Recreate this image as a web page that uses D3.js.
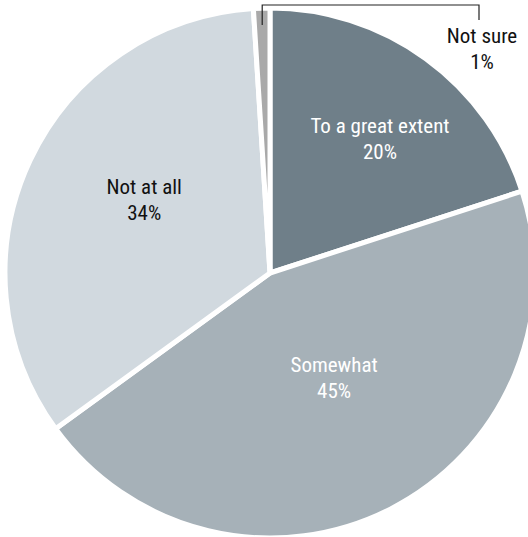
<!DOCTYPE html>
<html>
<head>
<meta charset="utf-8">
<script src="https://cdn.jsdelivr.net/npm/d3@7"></script>
<style>
  html, body { margin: 0; padding: 0; background: #ffffff; }
  svg { display: block; }
  text { font-family: "Roboto Condensed", "Liberation Sans Narrow", "Arial Narrow", sans-serif; font-size: 21px; }
</style>
</head>
<body>
<svg id="chart" width="528" height="537"></svg>
<script>
// ---- data ----
const categories = ["To a great extent", "Somewhat", "Not at all", "Not sure"];
const values = [20, 45, 34, 1];
const valueLabels = ["20%", "45%", "34%", "1%"];
const colors = ["#6f7f89", "#a6b1b8", "#d1d9df", "#a9a9a9"];
const labelColors = ["#ffffff", "#ffffff", "#111111", "#111111"];

// ---- layout ----
const cx = 270, cy = 273, R = 265;
// label anchor (polar: degrees clockwise from top, radius) for the inside labels
const labelAngle = [39.2, 148.3, 300.5];
const labelRadius = [174, 122, 146];
const lineGap = 26;

const svg = d3.select("#chart");
const g = svg.append("g").attr("transform", `translate(${cx},${cy})`);

const rows = categories.map((c, i) => ({ category: c, value: values[i], label: valueLabels[i], i }));

const pie = d3.pie().value(d => d.value).sort(null);
const arcs = pie(rows);
const arc = d3.arc().innerRadius(0).outerRadius(R);

g.selectAll("path.slice")
  .data(arcs)
  .join("path")
  .attr("class", "slice")
  .attr("d", arc)
  .attr("fill", d => colors[d.data.i])
  .attr("stroke", "#ffffff")
  .attr("stroke-width", 5)
  .attr("stroke-linejoin", "miter");

// inside labels
arcs.slice(0, 3).forEach(d => {
  const a = labelAngle[d.data.i] * Math.PI / 180;
  const r = labelRadius[d.data.i];
  const x = Math.sin(a) * r, y = -Math.cos(a) * r;
  const t = g.append("text")
    .attr("text-anchor", "middle")
    .attr("fill", labelColors[d.data.i])
    .attr("transform", `translate(${x},${y})`);
  t.append("tspan").attr("x", 0).attr("y", -5).text(d.data.category);
  t.append("tspan").attr("x", 0).attr("y", -5 + lineGap).text(d.data.label);
});

// outside label for small slice with bracket leader line
const small = arcs[3];
const mid = (small.startAngle + small.endAngle) / 2;
const x0 = Math.sin(mid) * 248, y0 = -Math.cos(mid) * 248;
const yTop = -cy + 5;
const xRight = 479 - cx;
g.append("path")
  .attr("d", `M${x0},${y0} L${x0},${yTop} L${xRight},${yTop} L${xRight},${yTop + 15}`)
  .attr("fill", "none")
  .attr("stroke", "#222222")
  .attr("stroke-width", 1.2);
const ts = g.append("text")
  .attr("text-anchor", "middle")
  .attr("fill", labelColors[3])
  .attr("transform", `translate(${xRight + 3},${yTop})`);
ts.append("tspan").attr("x", 0).attr("y", 38).text(small.data.category);
ts.append("tspan").attr("x", 0).attr("y", 38 + lineGap).text(small.data.label);
</script>
</body>
</html>
